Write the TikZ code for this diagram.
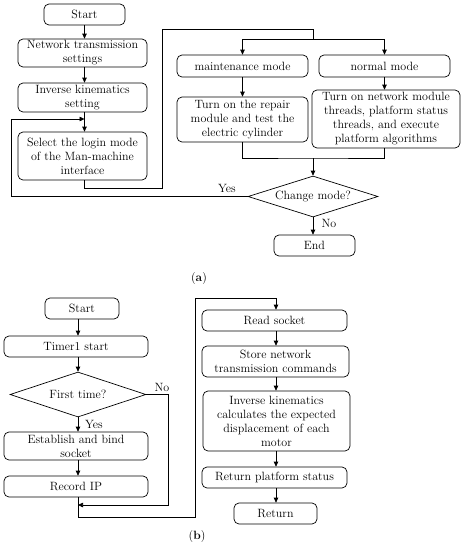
\documentclass[tikz,border=0pt]{standalone}
\usetikzlibrary{shapes.geometric,arrows.meta}
\begin{document}
\begin{tikzpicture}[x=1pt,y=-1pt,
  box/.style={draw, rounded corners=5pt, align=center, inner sep=0pt, line width=0.7pt, font=\fontsize{12}{14}\selectfont},
  dia/.style={draw, diamond, shape aspect=3, inner sep=0pt, line width=0.7pt, align=center, font=\fontsize{12}{14}\selectfont},
  arr/.style={-{Triangle[length=5pt,width=4.5pt]}, line width=0.7pt},
  ln/.style={line width=0.7pt},
  lbl/.style={font=\fontsize{12}{14}\selectfont, inner sep=0pt}]
\useasboundingbox (0,0) rectangle (466,550);
% ---------- (a) ----------
\node[box, minimum width=81pt, minimum height=21pt] (start) at (84.5,14.5) {Start};
\node[box, minimum width=129pt, minimum height=28pt] (net) at (82.5,53) {Network transmission\\settings};
\node[box, minimum width=129pt, minimum height=29pt] (ik) at (82.5,97.5) {Inverse kinematics\\setting};
\node[box, minimum width=129pt, minimum height=48pt] (sel) at (82.5,156) {Select the login mode\\of the Man-machine\\interface};
\node[box, minimum width=131pt, minimum height=22pt] (maint) at (242.5,66) {maintenance mode};
\node[box, minimum width=131pt, minimum height=22pt] (norm) at (384.5,66) {normal mode};
\node[box, minimum width=131pt, minimum height=45pt] (rep) at (242.5,119.5) {Turn on the repair\\module and test the\\electric cylinder};
\node[box, minimum width=148pt, minimum height=58pt] (netm) at (386,119) {Turn on network module\\threads, platform status\\threads, and execute\\platform algorithms};
\node[dia, minimum width=130pt, minimum height=41pt] (dia) at (313,196.5) {Change mode?};
\node[box, minimum width=81pt, minimum height=21pt] (end) at (314.5,245.5) {End};
\node[lbl] (yes) at (227,188) {Yes};
\node[lbl] (no) at (329,223) {No};
\node[lbl] (la) at (199,278) {(\textbf{a})};

\draw[arr] (start) -- (start |- net.north);
\draw[arr] (net.south -| start) -- (ik.north -| start);
\draw[arr] (ik.south -| start) -- (sel.north -| start);
\coordinate (fb) at (84.5,119);
\coordinate (fl) at (11,119);
\draw[arr] (dia.west) -| (fl) -- (fb);
\coordinate (c1) at (162,188);
\coordinate (c2) at (313,29);
\coordinate (sp) at (313,39);
\draw[ln] (sel.south -| start) |- (c1) |- (c2) -- (sp);
\draw[arr] (sp) -| (maint.north);
\draw[arr] (sp) -| (norm.north);
\draw[arr] (maint) -- (rep);
\draw[arr] (norm.south) -- (norm.south |- netm.north);
\coordinate (mg) at (313,158);
\draw[ln] (rep.south) |- (mg) -| (norm.south |- netm.south);
\draw[arr] (mg) -- (dia.north);
\draw[arr] (dia.south) -- (dia.south |- end.north);

% ---------- (b) ----------
\node[box, minimum width=74pt, minimum height=21pt] (sb) at (82,308.5) {Start};
\node[box, minimum width=144pt, minimum height=21pt] (tim) at (76,346.5) {Timer1 start};
\node[dia, minimum width=136pt, minimum height=45pt] (dib) at (78,394.5) {First time?};
\node[box, minimum width=144pt, minimum height=28pt] (est) at (76,446) {Establish and bind\\socket};
\node[box, minimum width=144pt, minimum height=21pt] (rec) at (76,486.5) {Record IP};
\node[box, minimum width=145pt, minimum height=21pt] (read) at (274.5,320.5) {Read socket};
\node[box, minimum width=147pt, minimum height=31pt] (store) at (275.5,361.5) {Store network\\transmission commands};
\node[box, minimum width=147pt, minimum height=60pt] (ikc) at (276.5,421) {Inverse kinematics\\calculates the expected\\displacement of each\\motor};
\node[box, minimum width=145pt, minimum height=21pt] (rps) at (274.5,477.5) {Return platform status};
\node[box, minimum width=83pt, minimum height=21pt] (ret) at (275.5,513.5) {Return};
\node[lbl] (nob) at (162,387) {No};
\node[lbl] (yesb) at (94,424) {Yes};
\node[lbl] (lb) at (197,536) {(\textbf{b})};

\draw[arr] (sb.south -| dib) -- (tim.north -| dib);
\draw[arr] (tim.south -| dib) -- (dib.north);
\draw[arr] (dib.south) -- (est.north -| dib);
\draw[arr] (est.south -| dib) -- (rec.north -| dib);
\coordinate (nr) at (168,505);
\coordinate (jb) at (78,505);
\draw[arr] (dib.east) -| (nr) -- (jb);
\coordinate (b1) at (195,517);
\coordinate (b2) at (276,298);
\draw[arr] (rec.south -| dib) |- (b1) |- (b2) -- (b2 |- read.north);
\draw[arr] (read.south -| b2) -- (store.north -| b2);
\draw[arr] (store.south -| b2) -- (ikc.north -| b2);
\draw[arr] (ikc.south -| b2) -- (rps.north -| b2);
\draw[arr] (rps.south -| b2) -- (ret.north -| b2);
\end{tikzpicture}
\end{document}
